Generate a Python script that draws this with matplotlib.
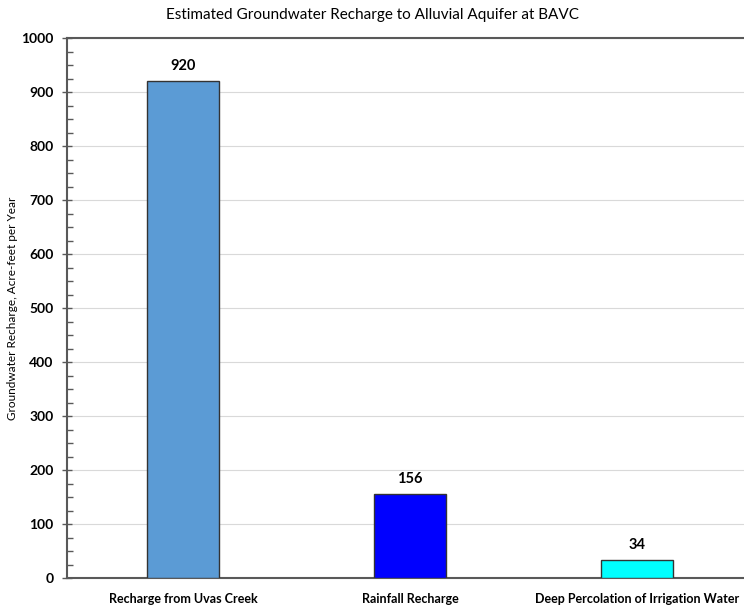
import matplotlib
matplotlib.use("Agg")
import matplotlib.pyplot as plt
from matplotlib.ticker import MultipleLocator

plt.rcParams['font.family'] = ['Lato', 'DejaVu Sans']

categories = ["Recharge from Uvas Creek", "Rainfall Recharge", "Deep Percolation of Irrigation Water"]
values = [920, 156, 34]
colors = ["#5B9BD5", "#0000FF", "#00FFFF"]

fig = plt.figure(figsize=(7.44, 6.06), dpi=100)
ax = fig.add_axes([0.090, 0.046, 0.910, 0.891])

x = list(range(len(categories)))
ax.bar(x, values, width=0.315, color=colors, edgecolor="#333333", linewidth=1.0, zorder=3)
for xi, v in zip(x, values):
    ax.text(xi, v + 15, f"{v}", ha="center", va="bottom", fontsize=10.5, fontweight="bold")

ax.set_xlim(-0.511, 2.471)
ax.set_ylim(0, 1000)
ax.yaxis.set_major_locator(MultipleLocator(100))
ax.yaxis.set_minor_locator(MultipleLocator(25))
ax.grid(axis="y", which="major", color="#d9d9d9", linewidth=0.8, zorder=0)

ax.set_xticks(x)
ax.set_xticklabels(categories, fontsize=9, fontweight="bold")
ax.tick_params(axis="x", length=0, pad=11)
ax.tick_params(axis="y", which="major", direction="inout", length=7, width=1, color="#595959", labelsize=10, pad=6)
ax.tick_params(axis="y", which="minor", direction="in", length=4, width=1, color="#595959")
for lab in ax.get_yticklabels():
    lab.set_fontweight("bold")

ax.spines["right"].set_visible(False)
for side in ["left", "top", "bottom"]:
    ax.spines[side].set_color("#595959")
    ax.spines[side].set_linewidth(1.5)

fig.text(13 / 744, 0.492, "Groundwater Recharge, Acre-feet per Year", rotation=90,
         ha="center", va="center", fontsize=8.5)
fig.text(0.5, 0.976, "Estimated Groundwater Recharge to Alluvial Aquifer at BAVC",
         ha="center", va="center", fontsize=11)

fig.savefig("out.png", dpi=100)
